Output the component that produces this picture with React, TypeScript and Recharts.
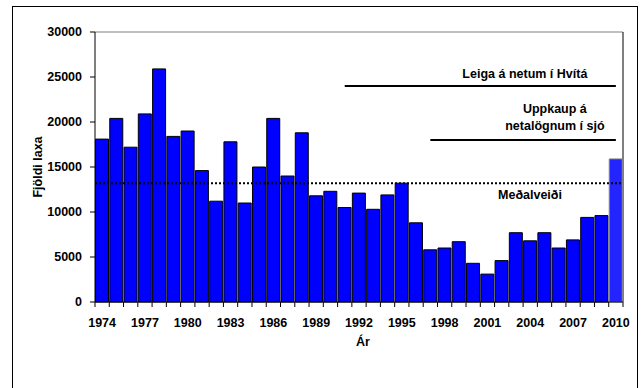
import {
  BarChart,
  Bar,
  Cell,
  XAxis,
  YAxis,
  CartesianGrid,
  ReferenceLine,
} from 'recharts'

const years = [
  '1974', '1975', '1976', '1977', '1978', '1979', '1980', '1981', '1982', '1983',
  '1984', '1985', '1986', '1987', '1988', '1989', '1990', '1991', '1992', '1993',
  '1994', '1995', '1996', '1997', '1998', '1999', '2000', '2001', '2002', '2003',
  '2004', '2005', '2006', '2007', '2008', '2009', '2010',
]

const catchCounts = [
  18100, 20400, 17200, 20900, 25900, 18400, 19000, 14600, 11200, 17800,
  11000, 15000, 20400, 14000, 18800, 11800, 12300, 10500, 12100, 10300,
  11900, 13200, 8800, 5800, 6000, 6700, 4300, 3100, 4600, 7700,
  6800, 7700, 6000, 6900, 9400, 9600, 15900,
]

const yTicks = [0, 5000, 10000, 15000, 20000, 25000, 30000]

const averageCatch = 13200
const netLeaseLevel = 24000
const netLeaseYears = ['1991', '2010']
const seaBuyoutLevel = 18000
const seaBuyoutYears = ['1997', '2010']

const data = years.map((year, i) => ({ year, value: catchCounts[i] }))

const FONT = '"Liberation Sans", Arial, sans-serif'
const FS = 12.5

const XTick = (props: any) => {
  const { x, y, index, payload, width } = props
  const half = width / (2 * years.length)
  const isLast = index === years.length - 1
  return (
    <g>
      <line x1={x - half} x2={x - half} y1={y} y2={y + 5} stroke="#000" />
      {isLast && <line x1={x + half} x2={x + half} y1={y} y2={y + 5} stroke="#000" />}
      {index % 3 === 0 && (
        <text
          x={x}
          y={y + 25}
          textAnchor="middle"
          fontFamily={FONT}
          fontWeight="bold"
          fontSize={FS}
          fill="#000"
        >
          {payload.value}
        </text>
      )}
    </g>
  )
}

const textProps = {
  fontFamily: FONT,
  fontWeight: 'bold' as const,
  fontSize: FS,
  fill: '#000',
  textAnchor: 'middle' as const,
}

export default function App() {
  return (
    <div style={{ position: 'absolute', left: 0, top: 0, width: 641, height: 388, overflow: 'hidden', background: '#fff' }}>
      <div
        style={{
          position: 'absolute',
          left: 12,
          top: 6,
          width: 624,
          height: 420,
          border: '1px solid #000',
        }}
      />
      <div style={{ position: 'absolute', left: 0, top: 0 }}>
        <BarChart
          width={641}
          height={388}
          data={data}
          margin={{ top: 32, right: 18, bottom: 36, left: 35 }}
          barCategoryGap={0.5}
        >
          <CartesianGrid
            vertical={false}
            stroke="#808080"
            horizontalCoordinatesGenerator={({ offset }: any) => [offset.top]}
          />
          <CartesianGrid
            horizontal={false}
            stroke="#000"
            verticalCoordinatesGenerator={({ offset }: any) => [offset.left + offset.width]}
          />
          <XAxis
            dataKey="year"
            interval={0}
            tickSize={0}
            tickMargin={0}
            tickLine={false}
            axisLine={{ stroke: '#000' }}
            tick={<XTick />}
            height={50}
            label={(p: any) => (
              <text x={p.viewBox.x + p.viewBox.width / 2 + 4} y={p.viewBox.y + 44} {...textProps}>
                Ár
              </text>
            )}
          />
          <YAxis
            domain={[0, 30000]}
            ticks={yTicks}
            interval={0}
            width={60}
            tickSize={5}
            tickMargin={8}
            tickLine={{ stroke: '#000' }}
            axisLine={{ stroke: '#000' }}
            tick={{ fontFamily: FONT, fontWeight: 'bold', fontSize: FS, fill: '#000' }}
            label={(p: any) => {
              const cx = p.viewBox.x + 3
              const cy = p.viewBox.y + p.viewBox.height / 2
              return (
                <text
                  x={cx}
                  y={cy}
                  {...textProps}
                  dominantBaseline="central"
                  transform={`rotate(-90, ${cx}, ${cy})`}
                >
                  Fjöldi laxa
                </text>
              )
            }}
          />
          <Bar dataKey="value" stroke="#000" strokeWidth={1} isAnimationActive={false}>
            {data.map((d, i) => (
              <Cell
                key={d.year}
                fill={i === data.length - 1 ? '#2424ff' : '#0000ff'}
                stroke={i === data.length - 1 ? '#8a8a8a' : '#000'}
              />
            ))}
          </Bar>
          <ReferenceLine
            y={averageCatch}
            stroke="#000"
            strokeWidth={2}
            strokeDasharray="2 2"
            label={(p: any) => (
              <text x={p.viewBox.x + p.viewBox.width - 93} y={p.viewBox.y + 16} {...textProps}>
                Meðalveiði
              </text>
            )}
          />
          <ReferenceLine
            segment={[
              { x: netLeaseYears[0], y: netLeaseLevel },
              { x: netLeaseYears[1], y: netLeaseLevel },
            ]}
            stroke="#000"
            strokeWidth={2}
            label={(p: any) => (
              <text x={p.viewBox.x + p.viewBox.width - 91} y={p.viewBox.y - 8} {...textProps}>
                Leiga á netum í Hvítá
              </text>
            )}
          />
          <ReferenceLine
            segment={[
              { x: seaBuyoutYears[0], y: seaBuyoutLevel },
              { x: seaBuyoutYears[1], y: seaBuyoutLevel },
            ]}
            stroke="#000"
            strokeWidth={2}
            label={(p: any) => (
              <g>
                <text x={p.viewBox.x + p.viewBox.width - 61} y={p.viewBox.y - 27} {...textProps}>
                  Uppkaup á
                </text>
                <text x={p.viewBox.x + p.viewBox.width - 61} y={p.viewBox.y - 10} {...textProps}>
                  netalögnum í sjó
                </text>
              </g>
            )}
          />
        </BarChart>
      </div>
    </div>
  )
}
